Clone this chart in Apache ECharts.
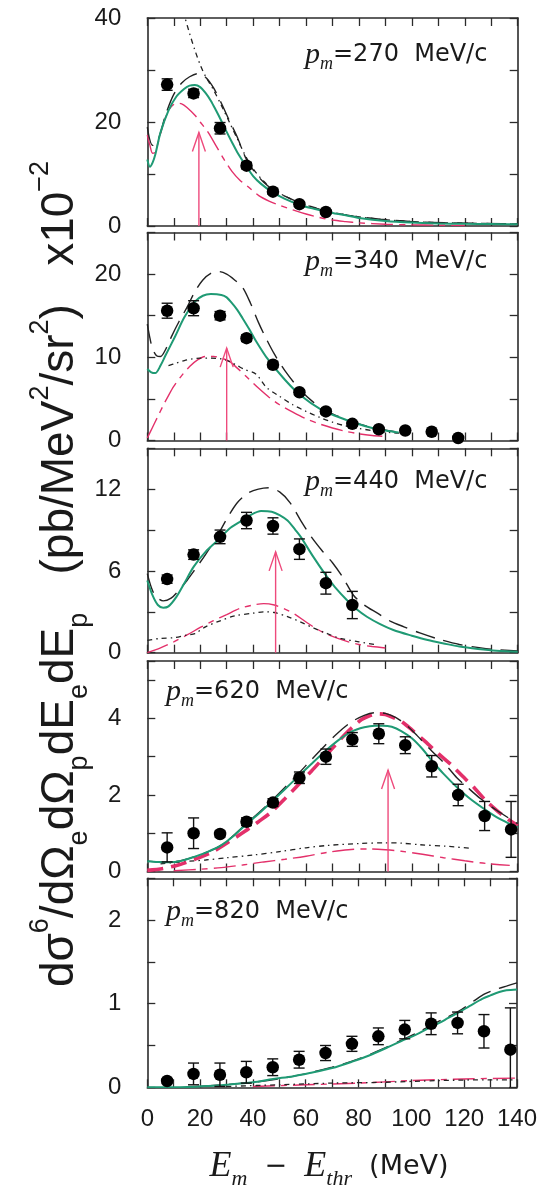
<!DOCTYPE html>
<html><head><meta charset="utf-8">
<script src="https://cdn.jsdelivr.net/npm/echarts@6/dist/echarts.min.js"></script>
<style>html,body{margin:0;padding:0;background:#fff;}#c{width:540px;height:1196px;}</style>
</head><body><div id="c"></div>
<script>
// ---------- data ----------
const xBins = [7.5, 17.5, 27.5, 37.5, 47.5, 57.5, 67.5, 77.5, 87.5, 97.5, 107.5, 117.5, 127.5, 137.5];
const xTicks = [0, 20, 40, 60, 80, 100, 120, 140];

const pts270 = [27.2, 25.5, 18.8, 11.6, 6.6, 4.2, 2.7];
const err270 = [1.1, 0.8, 1.1, 0.6, 0.5, 0.4, 0.4];
const pts340 = [15.6, 15.9, 15.0, 12.3, 9.1, 5.8, 3.5, 2.0, 1.35, 1.2, 1.05, 0.3];
const err340 = [0.9, 0.9, 0.5, 0.4, 0.35, 0.3, 0.3, 0.25, 0.2, 0.2, 0.2, 0.2];
const pts440 = [5.4, 7.2, 8.5, 9.7, 9.3, 7.6, 5.1, 3.5];
const err440 = [0.3, 0.35, 0.5, 0.6, 0.6, 0.75, 0.8, 1.0];
const pts620 = [0.63, 1.0, 0.98, 1.3, 1.8, 2.45, 3.0, 3.45, 3.6, 3.3, 2.75, 2.0, 1.45, 1.1];
const err620 = [0.38, 0.4, 0.08, 0.1, 0.1, 0.15, 0.2, 0.18, 0.26, 0.22, 0.28, 0.28, 0.38, 0.73];
const pts820 = [0.075, 0.16, 0.15, 0.18, 0.24, 0.33, 0.41, 0.52, 0.61, 0.69, 0.76, 0.77, 0.67, 0.45];
const err820 = [0.03, 0.13, 0.14, 0.13, 0.1, 0.1, 0.09, 0.09, 0.1, 0.11, 0.13, 0.13, 0.2, 0.5];

const green270 = [[0,12.8],[1,11.4],[2,12.2],[3,13.7],[5,18],[8,22.2],[11,24.9],[14,26.4],[16,27],[18,27.1],[20,26.7],[22,25.6],[24,24.1],[26,22.2],[28,20.2],[30,18.1],[32,16.1],[34,14.2],[37,11.8],[40,9.6],[43,8.1],[47,6.6],[52,5.2],[58,4.0],[63,3.3],[68,2.7],[75,2.05],[80,1.55],[90,0.95],[100,0.65],[110,0.5],[120,0.42],[130,0.37],[140,0.33]];
const dash270 = [[0,19],[2,15.5],[4,16.5],[7,21.5],[10,25.3],[13,27.5],[16,28.7],[19,29.3],[22,28.6],[25,26.6],[28,23.6],[31,20.3],[34,17.1],[37,13.3],[40,10.8],[44,8.4],[48,6.8],[53,5.5],[58,4.4],[64,3.4],[70,2.6],[78,1.9],[88,1.3],[100,0.85],[115,0.6],[140,0.4]];
const dot270 = [[12,44],[14,40.5],[16,37],[18,33.8],[20,31],[22,28.8],[25,26.2],[28,23.2],[31,20],[34,16.8],[37,13.6],[40,11],[44,8.6],[48,6.9],[53,5.5],[58,4.4],[64,3.4],[70,2.6],[78,1.9],[88,1.3],[100,0.85],[115,0.6],[140,0.4]];
const red270 = [[0,17.5],[1,15.5],[2,14],[3,14.2],[5,17.8],[7,21],[9,22.9],[11,23.6],[13,23.5],[15,22.8],[18,21.3],[20,20],[23,18],[26,15.4],[29,12.8],[32,10.5],[35,8.8],[38,7.6],[42,5.9],[46,4.8],[50,4.0],[55,3.1],[60,2.3],[65,1.65],[70,1.15],[75,0.85],[80,0.6],[90,0.35],[100,0.22],[110,0.15],[120,0.1]];
const arrow270 = [19.5, 18];

const green340 = [[0,8.6],[1.5,8.2],[3,8.1],[5,9.0],[7,10.3],[10.5,12.5],[14,14.8],[18,16.7],[21,17.4],[24,17.6],[28,17.5],[30,17.2],[32,16.5],[34,15.7],[36,14.7],[38.5,13.4],[41,12],[45.5,9.8],[52,7.3],[58,5.4],[66,3.65],[72,2.85],[78.5,2.1],[85,1.5],[90,1.2],[95,0.95]];
const dash340 = [[0,14],[1,12.3],[2,11],[3.5,10.2],[5,10.1],[7,11],[9,12.4],[12,14.3],[15,16],[18,17.9],[21,19.3],[24,20.1],[27,20.3],[30,20],[33,19.3],[36,18.4],[39,16.5],[42,14.2],[45,12.2],[48,10.4],[52,8.4],[58,6.0],[64,4.3],[70,3.2],[78,2.2],[86,1.5],[95,1.0]];
const dot340 = [[8,9.0],[11,9.3],[14,9.6],[17,9.8],[20,9.9],[24,9.9],[28,9.8],[31,9.5],[34,9.0],[37,8.5],[41,8.0],[45,6.4],[50,5.3],[55,4.3],[60,3.5],[65,2.8],[70,2.2],[75,1.75],[80,1.45],[86,1.15],[92,0.95],[97,0.85]];
const red340 = [[0,0.3],[2,1.6],[4,2.9],[6,4.2],[8,5.4],[10,6.5],[13,7.8],[16,8.9],[19,9.7],[22,10.1],[25,10.1],[28,9.9],[31,9.5],[34,8.7],[38,7.5],[42,6.3],[46,5.2],[50,4.3],[55,3.4],[60,2.6],[65,2.0],[70,1.5],[75,1.1],[80,0.8],[85,0.6],[89,0.5]];
const arrow340 = [30, 11.1];

const green440 = [[0,5.3],[2,4.2],[4,3.5],[6,3.3],[8,3.4],[11,4.1],[14,5.1],[17.5,6.3],[22,7.4],[27.5,8.4],[31,9.1],[35,9.6],[39,10.1],[43,10.4],[47,10.35],[50,10.1],[53,9.7],[56,9.0],[58,8.5],[62.7,7.05],[67.8,5.6],[71,4.8],[75.4,3.87],[79,3.2],[83,2.64],[88,2.1],[93,1.67],[100,1.25],[106,0.93],[112,0.68],[118,0.45],[125,0.28],[132,0.15],[140,0.07]];
const dash440 = [[0,5.8],[1.5,4.8],[3,4.2],[6,3.8],[9,4.0],[12,4.6],[15,5.3],[18,6.1],[22,7.2],[26,8.4],[30,9.8],[34,11.0],[38,11.7],[42,12.0],[46,12.1],[50,11.8],[54,11.0],[58,9.7],[62,8.5],[66,7.5],[70,6.6],[74,5.5],[78,4.2],[82,3.5],[87,2.9],[92,2.3],[97,1.9],[103,1.45],[110,1.0],[118,0.6],[128,0.3],[140,0.12]];
const dot440 = [[0,0.9],[5,1.05],[10,1.1],[15,1.3],[18,1.4],[22,1.9],[27,2.3],[33,2.7],[40,2.9],[44,3.0],[48,2.95],[53,2.65],[58,2.25],[63,1.8],[68,1.4],[73,1.05],[80,0.8],[86,0.6]];
const red440 = [[0,0],[5,0.35],[10,0.8],[15,1.3],[20,1.85],[25,2.35],[30,2.8],[35,3.25],[40,3.5],[44,3.6],[48,3.5],[52,3.2],[56,2.8],[60,2.25],[64,1.75],[68,1.35],[72,1.05],[76,0.8],[80,0.6],[85,0.45],[90,0.35]];
const arrow440 = [48.5, 7.4];

const green620 = [[0,0.27],[4,0.25],[8,0.24],[13,0.28],[18,0.39],[23,0.52],[28,0.69],[32.5,0.92],[37,1.21],[42,1.5],[47,1.82],[52,2.15],[57,2.48],[62,2.81],[67,3.13],[72,3.42],[77,3.65],[82,3.77],[86,3.81],[89,3.81],[92.4,3.78],[96,3.67],[100,3.48],[104,3.2],[107.5,2.9],[112,2.55],[117.5,2.17],[122,1.9],[127.6,1.62],[132,1.42],[137.7,1.22],[140,1.15]];
const dash620 = [[0,0.27],[8,0.24],[18,0.39],[28,0.69],[37,1.22],[47,1.85],[57,2.55],[62,2.92],[67,3.28],[72,3.62],[77,3.9],[82,4.08],[86,4.15],[90,4.13],[94,4.02],[98,3.82],[102,3.55],[107.5,3.15],[112,2.85],[117,2.45],[121,2.2],[126,1.9],[132,1.6],[140,1.25]];
const dot620 = [[5,0.2],[11,0.24],[16,0.27],[22,0.3],[30,0.36],[40,0.43],[50,0.52],[60,0.62],[68,0.68],[80,0.73],[90,0.75],[96,0.74],[103,0.7],[113,0.66],[123,0.6]];
const red620 = [[10,0.02],[20,0.06],[28,0.1],[36,0.17],[44,0.25],[52,0.32],[60,0.4],[68,0.5],[76,0.57],[84,0.59],[90,0.57],[96,0.53],[104,0.45],[112,0.36],[120,0.28],[128,0.21],[137,0.16]];
const bold620 = [[0,0.03],[6,0.08],[11.7,0.17],[18,0.32],[24.3,0.5],[30,0.74],[36.9,1.05],[42,1.3],[47,1.56],[52,1.9],[57,2.26],[62,2.62],[67,3.0],[71,3.3],[74.7,3.58],[78,3.8],[81,3.97],[84,4.07],[87.3,4.12],[90,4.1],[93,4.02],[96,3.92],[100,3.7],[105,3.4],[110,3.08],[115,2.78],[119,2.5],[123.8,2.17],[128,1.85],[132.7,1.56],[136,1.38],[140,1.2]];
const arrow620 = [91, 2.65];

const green820 = [[0,0],[15,0.005],[25,0.02],[30,0.03],[40,0.06],[47.6,0.1],[55,0.13],[61.5,0.17],[70,0.23],[77.9,0.31],[84,0.38],[90.5,0.47],[96,0.55],[101.8,0.63],[106,0.7],[110.6,0.77],[114,0.83],[118.2,0.9],[122,0.97],[127,1.06],[130,1.1],[133.3,1.14],[136,1.16],[140,1.17]];
const dash820 = [[20,0.01],[40,0.06],[55,0.13],[70,0.24],[80,0.34],[90,0.47],[96,0.56],[102,0.65],[108,0.75],[113,0.83],[118,0.91],[124,1.04],[128,1.12],[132,1.17],[136,1.21],[140,1.25]];
const dot820 = [[30,0.01],[50,0.03],[70,0.05],[90,0.06],[110,0.08],[130,0.09],[140,0.09]];
const red820 = [[40,0.01],[60,0.03],[80,0.05],[100,0.08],[120,0.1],[140,0.11]];

// ---------- layout & style ----------
const GL = 147.3, GW = 370.4;
const boxes = [[18,208],[232.5,208],[448.3,204.4],[661,210.5],[878.3,209]];
const panels = [
  {pm:'270', ymax:40, yint:10, ylab:20, pts:pts270, err:err270, green:green270, dash:dash270, dot:dot270, red:red270, arrow:arrow270, lx:305, ly:55},
  {pm:'340', ymax:25, yint:5, ylab:10, pts:pts340, err:err340, green:green340, dash:dash340, dot:dot340, red:red340, arrow:arrow340, lx:305, ly:262},
  {pm:'440', ymax:15, yint:3, ylab:6, pts:pts440, err:err440, green:green440, dash:dash440, dot:dot440, red:red440, arrow:arrow440, lx:305, ly:482},
  {pm:'620', ymax:5.5, yint:1, ylab:2, pts:pts620, err:err620, green:green620, dash:dash620, dot:dot620, red:red620, bold:bold620, arrow:arrow620, lx:166, ly:692},
  {pm:'820', ymax:2.5, yint:0.5, ylab:1, pts:pts820, err:err820, green:green820, dash:dash820, dot:dot820, red:red820, lx:166, ly:912}
];
const AX = '#2b2b2b', GREEN = '#1f9a74', RED = '#e3306a', PINK = '#ee4a7c';
const SANS = 'Liberation Sans', SERIF = 'Liberation Serif', WIDE = 'DejaVu Sans';

const grid = [], xAxis = [], yAxis = [], series = [];
const axLine = {show:true, onZero:false, lineStyle:{color:AX, width:1.6}};
const tick = {show:true, inside:true, length:8, lineStyle:{color:AX, width:1.3}};

panels.forEach((p, i) => {
  grid.push({left:GL, width:GW, top:boxes[i][0], height:boxes[i][1]});
  const last = i === panels.length - 1;
  ['bottom','top'].forEach((pos, j) => xAxis.push({
    type:'value', gridIndex:i, position:pos, min:0, max:140, interval:10,
    axisLine:axLine, axisTick:tick, splitLine:{show:false},
    axisLabel:{show: last && j===0, margin:20, fontSize:24, fontFamily:SANS, color:'#1a1a1a',
      showMinLabel:true, showMaxLabel:true,
      formatter: v => xTicks.indexOf(v) >= 0 ? String(v) : ''}
  }));
  ['left','right'].forEach((pos, j) => yAxis.push({
    type:'value', gridIndex:i, position:pos, min:0, max:p.ymax, interval:p.yint,
    axisLine:axLine, axisTick:tick, splitLine:{show:false},
    axisLabel:{show: j===0, margin:26, fontSize:24, fontFamily:SANS, color:'#1a1a1a',
      showMinLabel:true, showMaxLabel:true,
      formatter: v => (Math.abs(v / p.ylab - Math.round(v / p.ylab)) < 1e-6) ? String(Math.round(v*100)/100) : ''}
  }));
  const xi = 2*i, yi = 2*i;
  const mk = (data, style, z) => ({type:'line', xAxisIndex:xi, yAxisIndex:yi, data, showSymbol:false, symbol:'none',
    smooth:0.3, clip:true, silent:true, z, lineStyle:style});
  series.push(mk(p.red, {color:RED, width:1.4, type:[22,6,6,6]}, 2));
  series.push(mk(p.dot, {color:'#222', width:1.3, type:[5,4,1.5,4]}, 2));
  if (p.bold) series.push(mk(p.bold, {color:RED, width:3.6, type:[16,8]}, 2));
  series.push(mk(p.dash, {color:'#222', width:1.4, type:[20,9]}, 3));
  series.push(mk(p.green, {color:GREEN, width:2}, 4));
  if (p.arrow) series.push({type:'custom', xAxisIndex:xi, yAxisIndex:yi, data:[p.arrow], silent:true, z:3,
    renderItem:(params, api) => {
      const t = api.coord([api.value(0), api.value(1)]), b = api.coord([api.value(0), 0]);
      return {type:'group', children:[
        {type:'line', shape:{x1:t[0], y1:t[1], x2:b[0], y2:b[1]}, style:{stroke:PINK, lineWidth:1.4}},
        {type:'polyline', shape:{points:[[t[0]-6.5, t[1]+19],[t[0], t[1]],[t[0]+6.5, t[1]+19]]}, style:{stroke:PINK, lineWidth:1.4, fill:null}}
      ]};
    }});
  series.push({type:'custom', xAxisIndex:xi, yAxisIndex:yi, silent:true, z:5,
    data: p.pts.map((v, k) => [xBins[k], v, p.err[k]]),
    renderItem:(params, api) => {
      const x = api.value(0), y = api.value(1), e = api.value(2);
      const lo = Math.max(0, y - e);
      const a = api.coord([x, y + e]), b = api.coord([x, lo]);
      const hw = 5.5, st = {stroke:'#111', lineWidth:1.4};
      const ch = [{type:'line', shape:{x1:a[0], y1:a[1], x2:b[0], y2:b[1]}, style:st},
                  {type:'line', shape:{x1:a[0]-hw, y1:a[1], x2:a[0]+hw, y2:a[1]}, style:st}];
      if (y - e > 0) ch.push({type:'line', shape:{x1:b[0]-hw, y1:b[1], x2:b[0]+hw, y2:b[1]}, style:st});
      return {type:'group', children:ch};
    }});
  series.push({type:'scatter', xAxisIndex:xi, yAxisIndex:yi, silent:true, z:6,
    data: p.pts.map((v, k) => [xBins[k], v]), symbol:'circle', symbolSize:12.5, itemStyle:{color:'#000', opacity:1}});
});

const graphic = panels.map(p => ({
  type:'text', x:p.lx, y:p.ly, z:10,
  style:{text:'{p|p}{s|m}{t|=' + p.pm + '  MeV/c}', verticalAlign:'middle', align:'left',
    rich:{
      p:{fontFamily:SERIF, fontStyle:'italic', fontSize:30, lineHeight:36, verticalAlign:'middle', fill:'#1a1a1a'},
      s:{fontFamily:SERIF, fontStyle:'italic', fontSize:18, lineHeight:18, verticalAlign:'bottom', fill:'#1a1a1a'},
      t:{fontFamily:WIDE, fontSize:24, lineHeight:36, verticalAlign:'middle', fill:'#1a1a1a'}
    }}
}));
graphic.push({
  type:'text', x:329, y:1167, z:10,
  style:{text:'{e|E}{s|m}{t|  −  }{e|E}{s|thr}{t|  (MeV)}', align:'center', verticalAlign:'middle',
    rich:{
      e:{fontFamily:SERIF, fontStyle:'italic', fontSize:36, lineHeight:46, verticalAlign:'middle', fill:'#1a1a1a'},
      s:{fontFamily:SERIF, fontStyle:'italic', fontSize:22, lineHeight:22, verticalAlign:'bottom', fill:'#1a1a1a'},
      t:{fontFamily:WIDE, fontSize:27, lineHeight:46, verticalAlign:'middle', fill:'#1a1a1a'}
    }}
});
graphic.push({
  type:'text', x:60, y:574, rotation:Math.PI/2, z:10,
  style:{text:'{m|dσ}{u|6}{m|/dΩ}{d|e}{m|dΩ}{d|p}{m|dE}{d|e}{m|dE}{d|p}{m|   (pb/MeV}{u|2}{m|/sr}{u|2}{m|)   x10}{u|−2}',
    align:'center', verticalAlign:'middle',
    rich:{
      m:{fontFamily:SANS, fontSize:46, lineHeight:66, verticalAlign:'middle', fill:'#1a1a1a'},
      u:{fontFamily:SANS, fontSize:27, lineHeight:27, verticalAlign:'top', fill:'#1a1a1a'},
      d:{fontFamily:SANS, fontSize:27, lineHeight:27, verticalAlign:'bottom', fill:'#1a1a1a'}
    }}
});

const chart = echarts.init(document.getElementById('c'), null, {renderer:'canvas', width:540, height:1196});
chart.setOption({animation:false, backgroundColor:'#fff', grid, xAxis, yAxis, series, graphic});
</script></body></html>
